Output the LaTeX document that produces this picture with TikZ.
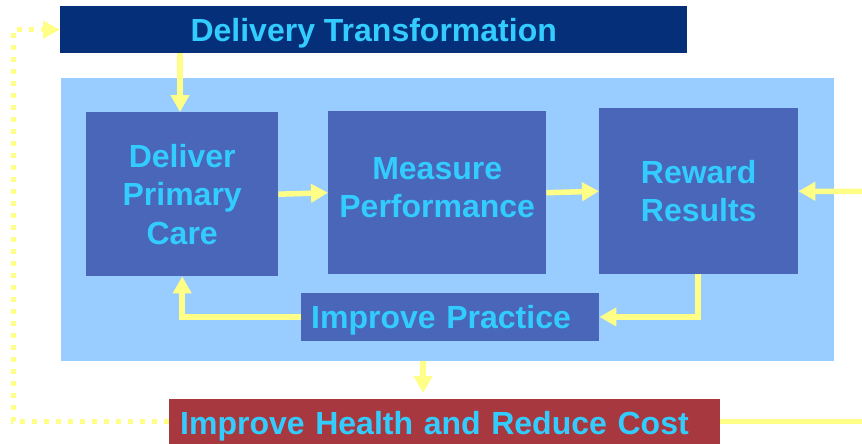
\documentclass[tikz,border=0pt]{standalone}
\usepackage{fontspec}
\setmainfont{Liberation Sans}
\usetikzlibrary{arrows.meta}
\definecolor{navy}{HTML}{052F78}
\definecolor{bgblue}{HTML}{99CCFF}
\definecolor{boxblue}{HTML}{4A66B8}
\definecolor{redbox}{HTML}{A8383F}
\definecolor{txtcyan}{HTML}{33CCFF}
\definecolor{ayellow}{HTML}{FFFF88}
\tikzset{
  txt/.style={text=txtcyan, font=\fontsize{32}{38.5}\selectfont\bfseries, align=center},
  oneline/.style={text height=23pt, text depth=0pt},
  blk/.style={fill=boxblue, draw=none, inner sep=0pt, txt},
  arr/.style={draw=ayellow, line width=5.5pt, -{Triangle[width=18pt,length=17pt]}},
  lin/.style={draw=ayellow, line width=5.5pt},
  dotline/.style={draw=ayellow, line width=5pt, dash pattern=on 5pt off 7pt, -{Triangle[width=17pt,length=17pt]}}
}
\begin{document}
\begin{tikzpicture}[x=1pt,y=-1pt]
\useasboundingbox (0,0) rectangle (862,444);
% background panel
\node[fill=bgblue, inner sep=0pt, minimum width=773pt, minimum height=283pt, anchor=north west] (bg) at (61,78) {};
% top box
\node[fill=navy, inner sep=0pt, minimum width=627pt, minimum height=47pt, anchor=north west, txt, oneline] (dt) at (60,6) {Delivery Transformation};
% process boxes
\node[blk, minimum width=192pt, minimum height=164pt, anchor=north west] (deliver) at (86,112) {Deliver\\Primary\\Care};
\node[blk, minimum width=218pt, minimum height=163pt, anchor=north west] (measure) at (328,111) {};
\node[txt] at ([yshift=5pt]measure.center) {Measure\\Performance};
\node[blk, minimum width=199pt, minimum height=166pt, anchor=north west] (reward) at (599,108) {Reward\\Results};
\node[blk, oneline, minimum width=298pt, minimum height=47.5pt, anchor=north west, text width=278pt, align=left, inner xsep=10pt] (practice) at (301,293) {Improve Practice};
% outcome box
\node[fill=redbox, inner sep=0pt, minimum width=551pt, minimum height=45pt, anchor=north west, txt, text height=26pt, text depth=0pt, text width=529pt, align=left, inner xsep=11pt] (outcome) at (169,399) {Improve Health and Reduce Cost};
% free ends
\coordinate (rin) at (862,191.5);
\coordinate (rout) at (862,422);
\coordinate (lcol) at (13,0);
% connectors
\draw[arr] (dt.south -| 180,0) -- (deliver.north -| 180,0);
\draw[arr] (deliver.east) -- (measure.west);
\draw[arr] (measure.east) -- (reward.west);
\draw[arr] (rin) -- (reward.east);
\draw[arr] (reward.south -| 698,0) |- (practice.east);
\draw[arr] (practice.west) -| (deliver.south);
\draw[arr, shorten >=6pt] (bg.south -| 423,0) -- (outcome.north -| 423,0);
\draw[lin] (outcome.east) -- (rout |- outcome.east);
\draw[dotline] (outcome.west) -| (lcol |- dt.west) -- (dt.west);
\end{tikzpicture}
\end{document}
